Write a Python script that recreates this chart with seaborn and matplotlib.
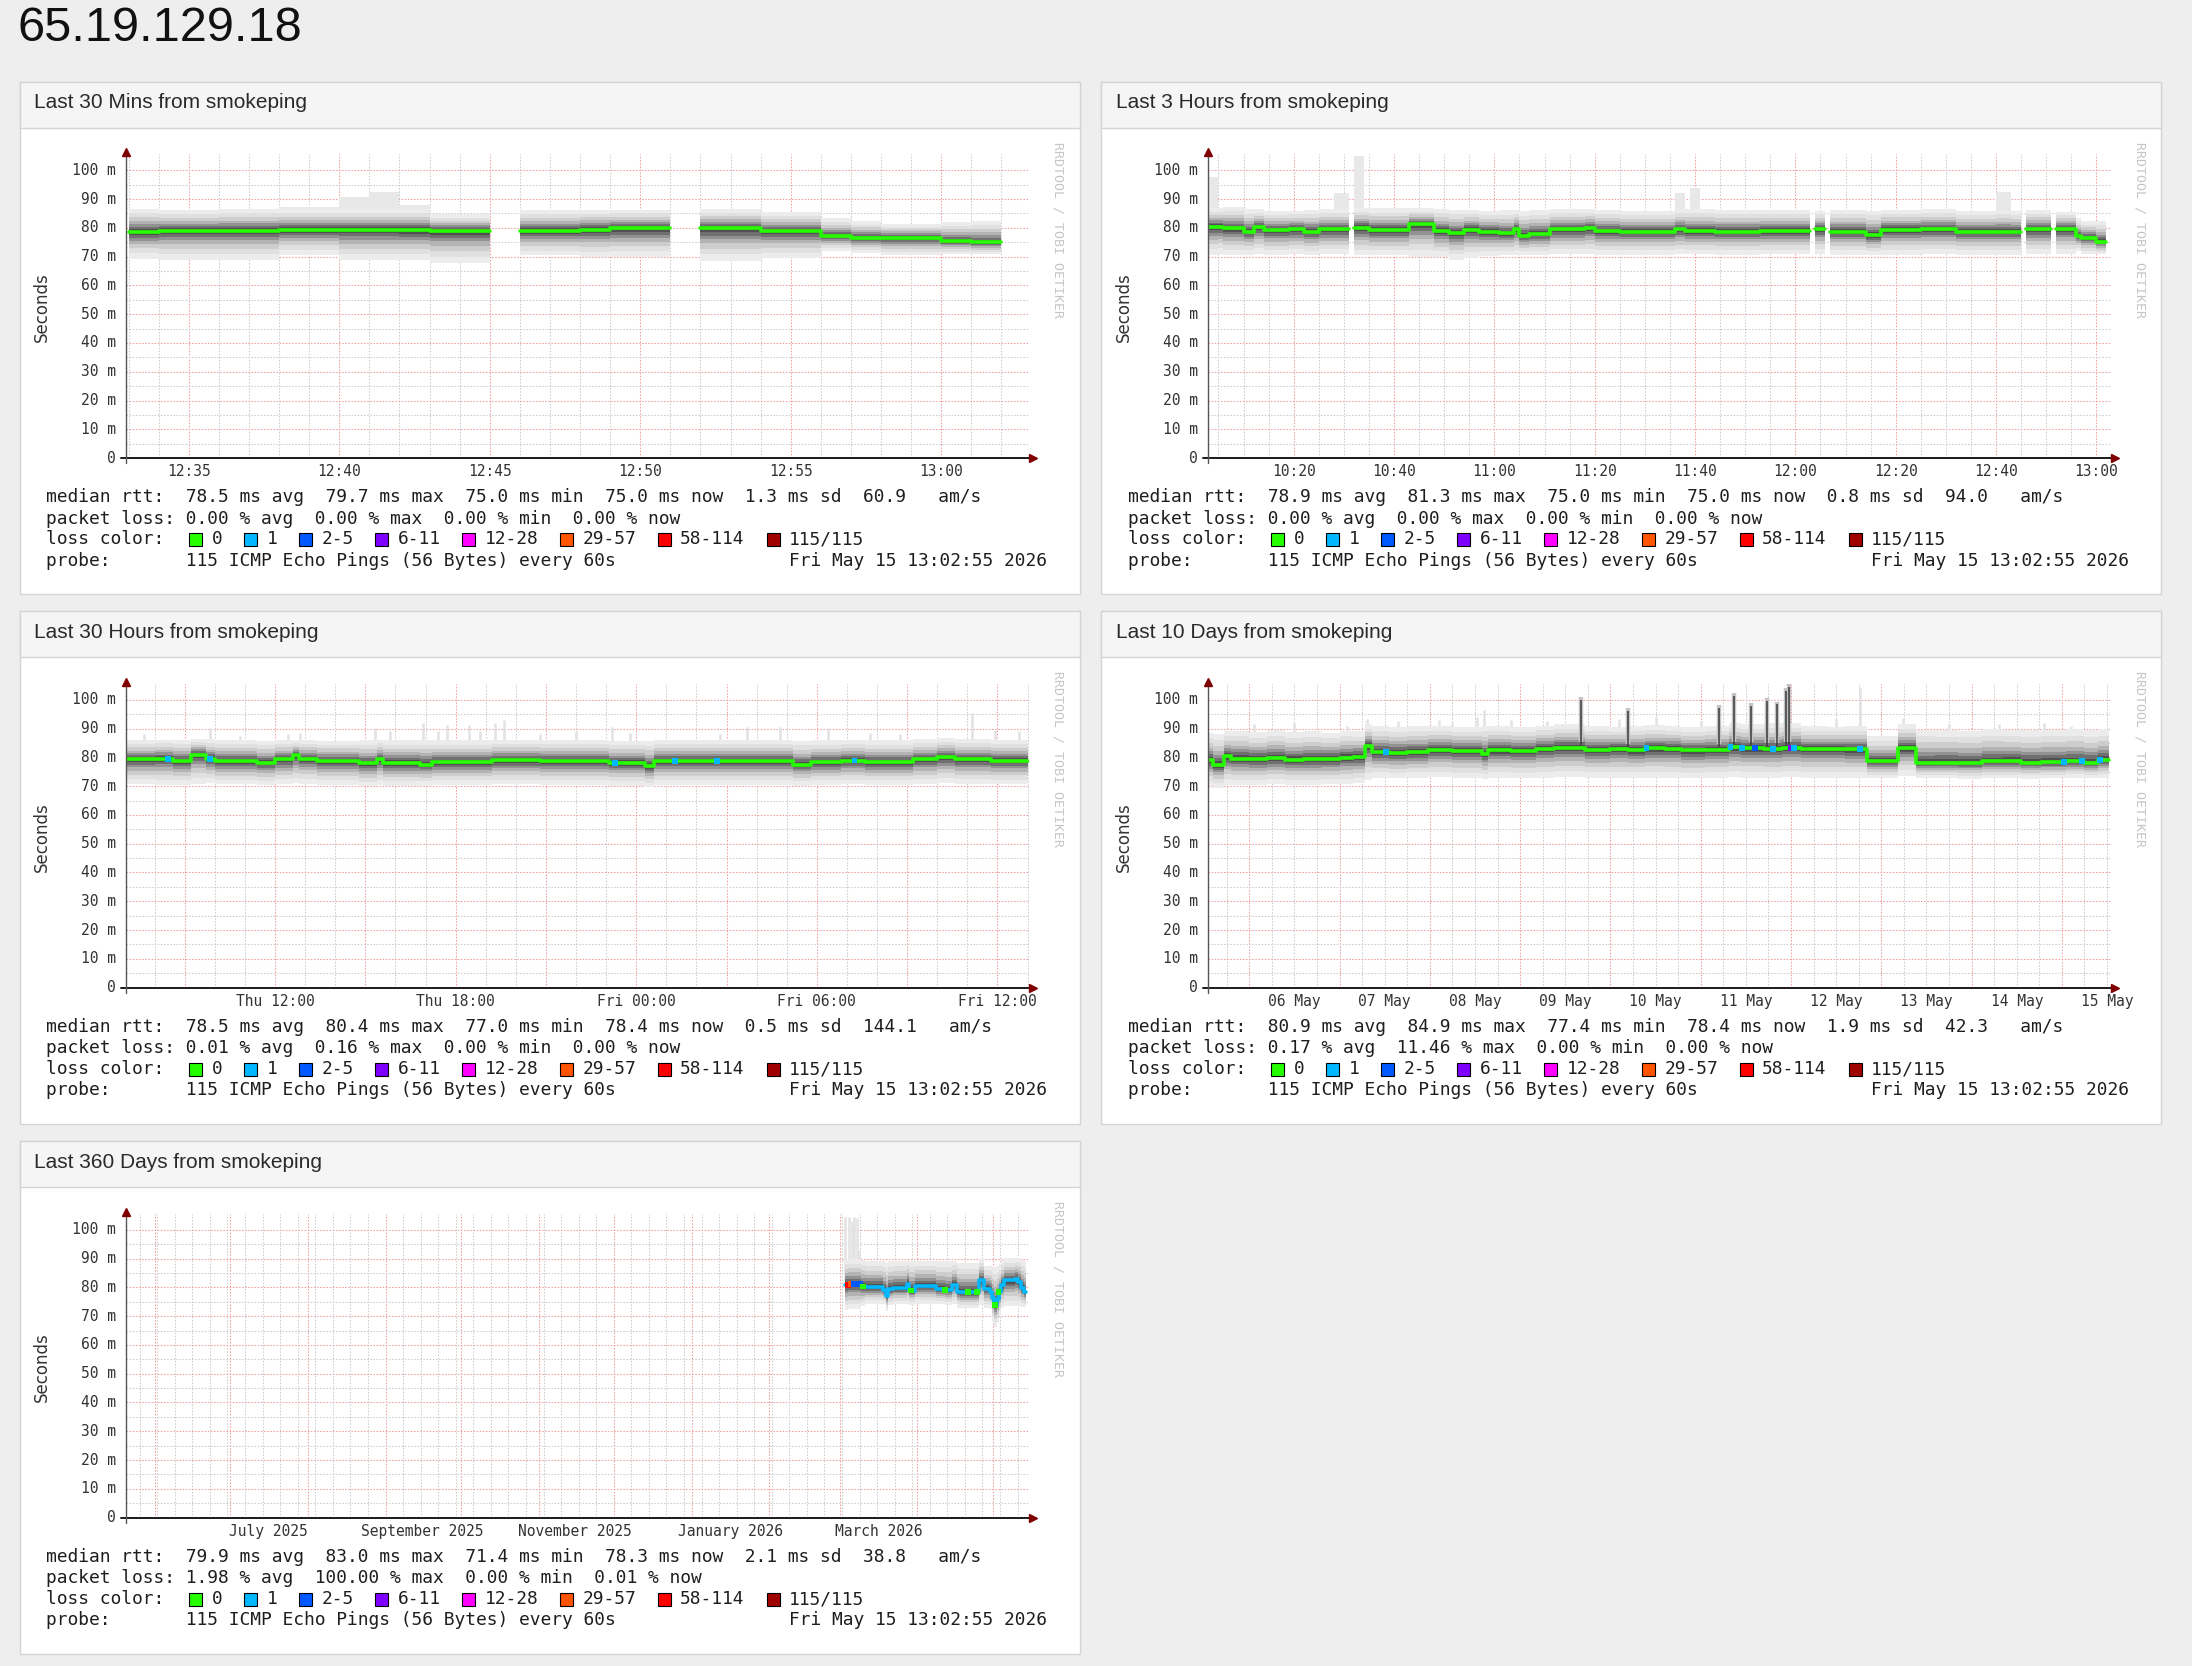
import numpy as np
import pandas as pd
import matplotlib
matplotlib.use("Agg")
import matplotlib.pyplot as plt
import matplotlib.dates as mdates
import matplotlib.transforms as mtransforms
from matplotlib.patches import Rectangle
import seaborn as sns

sns.set_theme(style="white")
plt.rcParams["font.family"] = ["DejaVu Sans"]

W, H = 2192, 1666
MONO = "DejaVu Sans Mono"
SANS = "Liberation Sans"

HOST = "65.19.129.18"
END = pd.Timestamp("2026-05-15 13:02:55")
STAMP = "Fri May 15 13:02:55 2026"
PROBE = "115 ICMP Echo Pings (56 Bytes) every 60s"

loss_names = ["0", "1", "2-5", "6-11", "12-28", "29-57", "58-114", "115/115"]
loss_colors = ["#26ff00", "#00b8ff", "#0059ff", "#7e00ff", "#ff00ff", "#ff5500", "#ff0000", "#a10000"]

y_ticks = [0, 10, 20, 30, 40, 50, 60, 70, 80, 90, 100]
y_labels = ["0", "10 m", "20 m", "30 m", "40 m", "50 m", "60 m", "70 m", "80 m", "90 m", "100 m"]

nan = np.nan

# ---- last 30 mins (minutes after 12:00) ----
t1 = list(range(33, 62))
med1 = [78.6, 78.9, 78.9, 79.0, 79.0, 79.4, 79.4, 79.4, 79.4, 79.3, 79.0, 79.0, nan, 79.0, 79.0,
        79.4, 79.8, 79.8, nan, 79.8, 79.8, 79.0, 79.0, 77.3, 76.6, 76.6, 76.6, 75.4, 75.0]
hi1 = [86.7, 86.3, 86.3, 86.7, 86.7, 86.5, 86.5, 86.5, 86.5, 86.5, 84.7, 84.7, nan, 86.3, 86.3,
       86.3, 86.3, 86.3, nan, 86.7, 86.7, 85.4, 85.4, 83.4, 82.3, 81.4, 81.4, 82.1, 82.5]
lo1 = [69.3, 69.0, 69.0, 69.0, 69.0, 70.5, 70.5, 68.8, 68.8, 68.8, 67.7, 67.7, nan, 70.4, 70.4,
       69.8, 69.8, 69.8, nan, 68.5, 68.5, 69.4, 69.4, 72.1, 71.4, 70.4, 70.4, 70.8, 70.8]
ext1 = [nan, nan, nan, nan, nan, 87.4, 87.4, 90.7, 92.4, 87.8, nan, nan, nan, nan, nan,
        nan, nan, nan, nan, nan, nan, nan, nan, nan, nan, nan, nan, nan, nan]

# ---- last 3 hours (minutes after 10:00) ----
t2 = [3, 5, 6, 10, 12, 14, 19, 22, 25, 28, 31, 32, 34, 35, 43, 48, 51, 54, 57, 61, 64, 65, 67, 71, 78,
      80, 85, 96, 98, 99, 101, 104, 113, 123, 124, 126, 127, 134, 137, 145, 152, 160, 163, 165, 166,
      171, 172, 176, 177, 180]
med2 = [80.4, 80.4, 79.8, 78.7, 80.2, 79.3, 79.5, 78.7, 79.5, 79.5, nan, 80.0, 80.0, 79.3, 81.2,
        79.0, 78.1, 79.3, 78.7, 78.1, 79.5, 77.2, 77.9, 79.5, 80.0, 78.9, 78.7, 79.6, 79.0, 79.0, 79.0,
        78.7, 78.9, nan, 79.5, nan, 78.7, 77.5, 79.3, 79.6, 78.7, 78.7, 78.7, nan, 79.5,
        nan, 79.6, 77.3, 76.6, 75.2]
hi2 = [87.0, 87.0, 87.4, 86.5, 86.5, 85.8, 86.0, 86.2, 86.5, 86.5, nan, 87.0, 87.0, 86.8, 86.8,
       86.5, 86.3, 86.3, 86.0, 86.2, 86.2, 86.0, 86.2, 86.5, 86.5, 86.2, 86.0, 86.5, 86.5, 86.5, 86.5,
       86.3, 86.3, nan, 86.0, nan, 86.3, 86.0, 86.3, 86.5, 86.0, 86.3, 86.0, nan, 86.2,
       nan, 85.5, 83.4, 82.3, 82.3]
lo2 = [70.6, 71.0, 70.6, 70.6, 71.0, 70.4, 70.8, 70.4, 70.8, 70.8, nan, 70.6, 70.6, 70.4, 70.0,
       70.0, 69.0, 69.5, 70.2, 70.6, 70.6, 70.6, 70.6, 70.8, 71.0, 70.6, 70.6, 70.8, 70.8, 70.8, 70.8,
       70.6, 70.8, nan, 71.0, nan, 70.6, 70.4, 70.6, 70.8, 70.6, 70.6, 70.6, nan, 70.8,
       nan, 70.8, 72.1, 71.0, 70.8]
ext2 = [97.8, nan, nan, nan, nan, nan, nan, nan, nan, 92.0, nan, 104.8, nan, nan, nan,
        nan, nan, nan, nan, nan, nan, nan, nan, nan, nan, nan, nan, 92.0, nan, 93.7, nan,
        nan, nan, nan, nan, nan, nan, nan, nan, nan, nan, 92.6, nan, nan, nan,
        nan, nan, nan, nan, nan]

# ---- last 30 hours (hours after Thu 00:00) ----
t3 = [7.05, 8.0, 8.6, 9.2, 9.7, 10.0, 11.4, 12.0, 12.6, 12.8, 13.4, 14.8, 15.4, 15.6, 16.8, 17.2,
      19.2, 20.8, 23.1, 24.3, 24.6, 25.5, 26.8, 29.2, 29.8, 30.8, 31.6, 33.2, 34.0, 34.6, 35.8]
med3 = [79.3, 79.5, 78.7, 80.9, 79.5, 78.7, 78.1, 79.3, 80.7, 79.5, 78.7, 77.9, 79.3, 78.1, 77.5, 78.3,
        79.0, 78.7, 78.1, 76.9, 78.7, 78.7, 78.7, 77.5, 78.3, 78.9, 78.3, 79.3, 80.1, 79.3, 78.9]
hi3 = [86.0, 86.2, 86.0, 86.5, 86.3, 86.0, 85.8, 86.0, 86.2, 86.0, 85.8, 86.0, 86.2, 86.0, 86.2, 86.0,
       86.2, 86.0, 85.8, 85.8, 86.0, 86.0, 86.0, 85.8, 86.0, 86.2, 86.0, 86.5, 86.8, 86.3, 86.0]
lo3 = [70.8, 70.5, 70.5, 70.8, 71.0, 70.6, 70.4, 70.6, 71.0, 70.8, 70.3, 70.0, 70.5, 70.0, 70.2, 70.5,
       70.6, 70.5, 70.2, 69.8, 70.3, 70.5, 70.5, 70.2, 70.5, 70.6, 70.5, 70.8, 71.0, 70.8, 70.6]
spk3_t = [7.65, 9.84, 10.83, 12.43, 12.83, 15.32, 15.81, 16.91, 17.41, 17.71, 18.44, 18.8, 19.3, 19.6,
          20.8, 21.99, 23.18, 23.78, 26.77, 27.67, 28.76, 30.36, 31.75, 32.75, 35.14, 35.93, 36.73]
spk3_top = [88.0, 90.2, 87.5, 88.0, 88.5, 90.2, 89.0, 91.9, 89.0, 91.3, 91.3, 89.0, 91.9, 93.0,
            88.0, 89.0, 90.7, 88.5, 88.0, 90.7, 90.7, 90.2, 88.5, 88.0, 95.4, 89.6, 89.0]
mark3_t = [8.44, 9.84, 23.3, 25.28, 26.67, 31.25]
mark3_c = ["1", "1", "1", "1", "1", "1"]

# ---- last 10 days (days after May 5 00:00) ----
t4 = [0.55, 0.60, 0.72, 0.80, 1.00, 1.20, 1.40, 1.60, 1.80, 2.00, 2.15, 2.28, 2.36, 2.55, 2.75, 2.98,
      3.25, 3.58, 3.65, 3.90, 4.18, 4.38, 4.72, 5.00, 5.20, 5.38, 5.60, 5.78, 6.05, 6.31, 6.45, 6.70,
      6.90, 7.11, 7.40, 7.60, 7.84, 8.18, 8.38, 8.60, 8.85, 9.11, 9.35, 9.55, 9.77, 10.05, 10.25, 10.40]
med4 = [79.1, 77.4, 80.3, 79.6, 79.3, 79.7, 79.2, 79.5, 79.4, 79.9, 80.2, 84.0, 81.8, 81.5, 81.8, 82.6,
        82.3, 81.1, 82.4, 82.2, 82.9, 83.4, 82.6, 82.9, 82.5, 83.2, 83.0, 82.4, 82.6, 83.5, 83.2, 83.0,
        83.4, 82.9, 83.0, 82.8, 78.6, 83.2, 78.0, 78.2, 77.9, 78.6, 78.8, 78.2, 78.3, 78.6, 78.2, 79.1]
hi4 = [88.5, 88.0, 89.0, 89.3, 88.7, 89.5, 88.8, 89.0, 88.5, 89.2, 89.0, 91.5, 91.0, 90.5, 90.8, 91.0,
       90.5, 91.0, 91.0, 90.6, 91.0, 91.5, 91.0, 90.5, 91.0, 91.2, 90.8, 90.5, 91.0, 92.0, 91.5, 91.8,
       92.0, 90.8, 90.5, 90.8, 87.3, 91.5, 89.6, 89.5, 89.3, 89.8, 89.6, 89.4, 89.5, 89.8, 89.4, 89.7]
lo4 = [70.0, 69.5, 70.5, 70.3, 70.5, 70.8, 70.5, 70.3, 70.6, 70.8, 71.0, 72.0, 73.0, 72.8, 73.0, 73.2,
       72.8, 72.5, 73.0, 72.8, 73.0, 73.2, 73.0, 73.0, 72.8, 73.0, 73.0, 72.8, 73.0, 73.2, 73.0, 73.0,
       73.2, 73.0, 73.0, 72.8, 72.8, 73.5, 72.8, 72.8, 72.6, 72.8, 72.8, 72.6, 72.8, 73.0, 72.8, 73.0]
spk4_t = [1.05, 1.5, 2.08, 2.30, 2.65, 3.10, 3.25, 3.52, 3.60, 3.9, 4.3, 5.1, 5.5, 6.0, 7.5, 7.76,
          8.24, 8.75, 9.3, 9.8, 10.1]
spk4_top = [91.5, 92.0, 91.0, 93.5, 92.5, 93.0, 92.0, 94.0, 96.5, 93.0, 92.5, 93.5, 94.0, 92.5, 93.5,
            104.0, 93.6, 91.5, 91.5, 92.0, 91.0]
drk4_t = [4.67, 5.20, 6.20, 6.37, 6.56, 6.73, 6.84, 6.95, 6.98]
drk4_top = [100.9, 97.1, 98.3, 102.3, 98.8, 100.6, 99.4, 104.1, 105.4]
mark4_t = [2.51, 5.40, 6.33, 6.46, 6.60, 6.80, 7.00, 7.03, 7.76, 10.02, 10.22, 10.42]
mark4_c = ["1", "1", "1", "1", "2-5", "1", "6-11", "1", "1", "1", "1", "1"]

# ---- last 360 days (days after 2026-03-01) ----
t5 = [2.2, 3.5, 5.5, 8.5, 10.2, 17.5, 18.5, 19.5, 21.5, 27.0, 27.8, 30.0, 38.5, 42.0, 45.0, 47.0,
      48.0, 55.5, 57.5, 60.0, 60.7, 61.7, 62.7, 63.4, 64.5, 65.4, 70.0, 71.3, 72.5, 73.7]
med5 = [80.8, 81.1, 81.1, 80.3, 80.1, 79.1, 77.0, 79.4, 79.7, 81.1, 78.9, 80.4, 79.4, 79.1, 80.8, 78.5,
        78.3, 82.4, 79.4, 78.5, 76.2, 74.0, 76.0, 78.5, 80.8, 82.4, 82.9, 81.7, 79.7, 78.5]
hi5 = [90.0, 90.0, 90.0, 89.5, 89.3, 89.0, 88.5, 89.0, 89.3, 89.5, 89.3, 89.3, 89.0, 89.0, 89.3, 88.6,
       88.6, 90.0, 87.5, 87.5, 87.2, 87.2, 87.5, 88.0, 89.5, 90.1, 90.1, 90.1, 89.5, 89.0]
lo5 = [72.0, 72.5, 72.5, 73.5, 74.3, 74.3, 71.8, 74.0, 74.3, 74.3, 74.0, 74.3, 74.3, 74.0, 74.3, 73.0,
       72.7, 74.0, 73.0, 72.5, 68.0, 66.4, 67.5, 70.0, 73.0, 73.5, 73.5, 73.5, 73.3, 73.3]
spk5_t = [2.3, 3.6, 5.0, 5.9, 7.0, 7.8]
spk5_top = [104.6, 104.6, 103.0, 104.6, 104.0, 93.0]
mark5_t = [3.4, 4.4, 5.6, 6.4, 7.2, 8.0, 9.5, 28.4, 42.1, 51.4, 54.7, 62.0, 63.4]
mark5_c = ["58-114", "29-57", "2-5", "2-5", "2-5", "2-5", "0", "0", "0", "0", "0", "0", "0"]

stats1 = ["median rtt:  78.5 ms avg  79.7 ms max  75.0 ms min  75.0 ms now  1.3 ms sd  60.9   am/s",
          "packet loss: 0.00 % avg  0.00 % max  0.00 % min  0.00 % now"]
stats2 = ["median rtt:  78.9 ms avg  81.3 ms max  75.0 ms min  75.0 ms now  0.8 ms sd  94.0   am/s",
          "packet loss: 0.00 % avg  0.00 % max  0.00 % min  0.00 % now"]
stats3 = ["median rtt:  78.5 ms avg  80.4 ms max  77.0 ms min  78.4 ms now  0.5 ms sd  144.1   am/s",
          "packet loss: 0.01 % avg  0.16 % max  0.00 % min  0.00 % now"]
stats4 = ["median rtt:  80.9 ms avg  84.9 ms max  77.4 ms min  78.4 ms now  1.9 ms sd  42.3   am/s",
          "packet loss: 0.17 % avg  11.46 % max  0.00 % min  0.00 % now"]
stats5 = ["median rtt:  79.9 ms avg  83.0 ms max  71.4 ms min  78.3 ms now  2.1 ms sd  38.8   am/s",
          "packet loss: 1.98 % avg  100.00 % max  0.00 % min  0.01 % now"]

lab1 = ["2026-05-15 12:35", "2026-05-15 12:40", "2026-05-15 12:45", "2026-05-15 12:50",
        "2026-05-15 12:55", "2026-05-15 13:00"]
lab1_txt = ["12:35", "12:40", "12:45", "12:50", "12:55", "13:00"]
lab2 = ["2026-05-15 10:20", "2026-05-15 10:40", "2026-05-15 11:00", "2026-05-15 11:20",
        "2026-05-15 11:40", "2026-05-15 12:00", "2026-05-15 12:20", "2026-05-15 12:40",
        "2026-05-15 13:00"]
lab2_txt = ["10:20", "10:40", "11:00", "11:20", "11:40", "12:00", "12:20", "12:40", "13:00"]
lab3 = ["2026-05-14 12:00", "2026-05-14 18:00", "2026-05-15 00:00", "2026-05-15 06:00",
        "2026-05-15 12:00"]
lab3_txt = ["Thu 12:00", "Thu 18:00", "Fri 00:00", "Fri 06:00", "Fri 12:00"]
lab4 = ["2026-05-%02d 12:00" % d for d in range(6, 16)]
lab4_txt = ["%02d May" % d for d in range(6, 16)]
lab5 = ["2025-07-16 12:00", "2025-09-15 12:00", "2025-11-15 12:00", "2026-01-16 12:00",
        "2026-03-16 12:00"]
lab5_txt = ["July 2025", "September 2025", "November 2025", "January 2026", "March 2026"]

SMOKE = [(1.00, "#ececec"), (0.80, "#e0e0e0"), (0.62, "#cdcdcd"), (0.46, "#b3b3b3"),
         (0.33, "#929292"), (0.22, "#707070"), (0.12, "#505050")]

PANEL_W, PANEL_H, HEAD_H = 1060, 512.5, 46
AX_DX, AX_DY, AX_W, AX_H = 106.5, 72.8, 903, 303.8
YTOP = 105.56
CW = 10.75

fig = plt.figure(figsize=(W / 100, H / 100), dpi=100)
fig.patch.set_facecolor("#eeeeee")


def px(x, y):
    return x / W, 1 - y / H


def add_rect(x, y, w, h, z=1, **kw):
    fig.add_artist(Rectangle((x / W, 1 - (y + h) / H), w / W, h / H,
                             transform=fig.transFigure, zorder=z, **kw))


def steps(t, cols, t_end):
    edges = list(t) + [t_end]
    runs, xs, ys = [], [], None
    for i in range(len(t)):
        vals = [c[i] for c in cols]
        if np.isnan(vals[0]):
            if xs:
                runs.append((np.array(xs), [np.array(y) for y in ys]))
            xs, ys = [], None
            continue
        if ys is None:
            ys = [[] for _ in cols]
        xs += [edges[i], edges[i + 1]]
        for k, v in enumerate(vals):
            ys[k] += [v, v]
    if xs:
        runs.append((np.array(xs), [np.array(y) for y in ys]))
    return runs


def at(t, v, q):
    idx = np.clip(np.searchsorted(t, q, side="right") - 1, 0, len(t) - 1)
    return np.asarray(v, float)[idx]


def draw_panel(L, T, title, span, base, unit, t, med, hi, lo, t_end, line_color,
               major, minor, labs, labs_txt, stats,
               ext=None, marks=None, light=None, dark=None):
    add_rect(L, T, PANEL_W, PANEL_H, z=-3, facecolor="white", edgecolor="#d4d4d4", lw=1)
    add_rect(L, T, PANEL_W, HEAD_H, z=-2, facecolor="#f5f5f5", edgecolor="#d4d4d4", lw=1)
    fig.text(*px(L + 15, T + 21), title, family=SANS, size=15, color="#2a2a2a", va="center")

    ax = fig.add_axes([(L + AX_DX) / W, 1 - (T + AX_DY + AX_H) / H, AX_W / W, AX_H / H])
    ax.set_facecolor("white")
    b = mdates.date2num(pd.Timestamp(base))
    conv = lambda v: b + np.asarray(v, float) / unit
    x = conv(t)
    xe = conv([t_end])[0]

    # light streaks above the smoke
    if light is not None:
        lt, ltop = conv(light[0]), np.asarray(light[1])
        ax.vlines(lt, at(x, med, lt), ltop, colors="#e2e2e2", lw=1.8, zorder=1.5)
    if ext is not None:
        for xs, (e, h) in steps(x, [ext, hi], xe):
            ax.fill_between(xs, h - 0.5, e, color="#e8e8e8", lw=0, zorder=1.6)

    # smoke: nested layers, darker toward the median
    for xs, (m, h, l) in steps(x, [med, hi, lo], xe):
        for f, c in SMOKE:
            ax.fill_between(xs, m - (m - l) * f, m + (h - m) * f, color=c, lw=0, zorder=2)

    if dark is not None:
        dt, dtop = conv(dark[0]), np.asarray(dark[1])
        dbase = at(x, med, dt)
        ax.vlines(dt, dbase + 2, dtop, colors="#c4c4c4", lw=3.2, zorder=2.5)
        ax.vlines(dt, dbase + 1, dtop - 1, colors="#3a3a3a", lw=1.1, zorder=3)

    for xs, (m,) in steps(x, [med], xe):
        sns.lineplot(x=xs, y=m, ax=ax, color=line_color, lw=2.6, estimator=None,
                     sort=False, zorder=5)

    if marks is not None:
        mt = conv(marks[0])
        sns.scatterplot(x=mt, y=at(x, med, mt), hue=marks[1], ax=ax, marker="s", s=18,
                        palette=dict(zip(loss_names, loss_colors)), linewidth=0,
                        legend=False, zorder=6)

    x0 = mdates.date2num(END - span)
    x1 = mdates.date2num(END)
    ax.set_xlim(x0, x1)
    ax.set_ylim(0, YTOP)
    ax.xaxis.set_major_locator(major)
    ax.xaxis.set_minor_locator(minor)
    ax.set_yticks(y_ticks)
    ax.set_yticks(list(range(5, 100, 10)), minor=True)
    ax.grid(which="major", color="#f2a0a0", lw=0.75, ls=(0, (1.5, 1.5)))
    ax.grid(which="minor", color="#cdcdcd", lw=0.75, ls=(0, (1.5, 1.5)))
    ax.set_axisbelow(True)
    ax.tick_params(which="major", direction="inout", length=5, width=0.8, color="#555555",
                   labelbottom=False, labelleft=False)
    ax.tick_params(which="minor", direction="inout", length=3, width=0.8, color="#777777")
    ax.set_xlabel("")
    ax.set_ylabel("")
    for s in ax.spines.values():
        s.set_visible(False)

    ax.plot([-5 / AX_W, 1.0043], [0, 0], transform=ax.transAxes, color="#1a1a1a", lw=1.4,
            clip_on=False, zorder=7)
    ax.plot([0, 0], [-5 / AX_H, 1.007], transform=ax.transAxes, color="#555555", lw=1.0,
            clip_on=False, zorder=7)
    ax.plot([1.0043], [0], transform=ax.transAxes, marker=">", ms=6, color="#7f0000",
            clip_on=False, zorder=8)
    ax.plot([0], [1.007], transform=ax.transAxes, marker="^", ms=6, color="#7f0000",
            clip_on=False, zorder=8)

    ytr = mtransforms.blended_transform_factory(ax.transAxes, ax.transData)
    for v, s in zip(y_ticks, y_labels):
        ax.text(-10 / AX_W, v, s, transform=ytr, ha="right", va="center",
                family=MONO, size=10.5, color="#333333")
    xtr = mtransforms.blended_transform_factory(ax.transData, ax.transAxes)
    for tt, s in zip(labs, labs_txt):
        ax.text(mdates.date2num(pd.Timestamp(tt)), -13.8 / AX_H, s, transform=xtr,
                ha="center", va="center", family=MONO, size=10.5, color="#333333")

    fig.text(*px(L + 22.5, T + 226), "Seconds", rotation=90, ha="center", va="center",
             family="DejaVu Sans", size=12, color="#333333")
    fig.text(*px(L + 1038.5, T + 60.2), "RRDTOOL / TOBI OETIKER", rotation=270,
             ha="center", va="top", family=MONO, size=9.5, color="#c6c6c6")

    tx = L + 27
    ys = [T + 416, T + 437, T + 458, T + 479]
    fig.text(*px(tx, ys[0]), stats[0], family=MONO, size=12.85, color="#1e1e1e", va="center")
    fig.text(*px(tx, ys[1]), stats[1], family=MONO, size=12.85, color="#1e1e1e", va="center")
    fig.text(*px(tx, ys[2]), "loss color:", family=MONO, size=12.85, color="#1e1e1e",
             va="center")
    col = 13.2
    for name, c in zip(loss_names, loss_colors):
        add_rect(tx + 1 + col * CW, ys[2] - 6.5, 13, 13, facecolor=c, edgecolor="black", lw=0.8)
        fig.text(*px(tx + (col + 2.15) * CW, ys[2]), name, family=MONO, size=12.85,
                 color="#1e1e1e", va="center")
        col += 2.15 + len(name) + 1.95
    fig.text(*px(tx, ys[3]), "probe:       " + PROBE, family=MONO, size=12.85,
             color="#1e1e1e", va="center")
    fig.text(*px(L + 1027.5, ys[3]), STAMP, family=MONO, size=12.85, color="#1e1e1e",
             va="center", ha="right")
    return ax


fig.text(*px(18, 28.5), HOST, family=SANS, size=35, color="#111111", va="center")

LEFT, RIGHT = 19.5, 1101.5
ROW = [81.5, 611, 1141]
GREEN = loss_colors[0]
BLUE = loss_colors[1]

draw_panel(LEFT, ROW[0], "Last 30 Mins from smokeping", pd.Timedelta(minutes=30),
           "2026-05-15 12:00", 1440, t1, med1, hi1, lo1, 62, GREEN,
           mdates.MinuteLocator(byminute=range(0, 60, 5)), mdates.MinuteLocator(),
           lab1, lab1_txt, stats1, ext=ext1)

draw_panel(RIGHT, ROW[0], "Last 3 Hours from smokeping", pd.Timedelta(hours=3),
           "2026-05-15 10:00", 1440, t2, med2, hi2, lo2, 182, GREEN,
           mdates.MinuteLocator(byminute=[0, 20, 40]),
           mdates.MinuteLocator(byminute=range(0, 60, 5)),
           lab2, lab2_txt, stats2, ext=ext2)

draw_panel(LEFT, ROW[1], "Last 30 Hours from smokeping", pd.Timedelta(hours=30),
           "2026-05-14 00:00", 24, t3, med3, hi3, lo3, 37.0, GREEN,
           mdates.HourLocator(byhour=range(0, 24, 3)), mdates.HourLocator(),
           lab3, lab3_txt, stats3, marks=(mark3_t, mark3_c), light=(spk3_t, spk3_top))

draw_panel(RIGHT, ROW[1], "Last 10 Days from smokeping", pd.Timedelta(days=10),
           "2026-05-05 00:00", 1, t4, med4, hi4, lo4, 10.52, GREEN,
           mdates.DayLocator(), mdates.HourLocator(byhour=[0, 6, 12, 18]),
           lab4, lab4_txt, stats4, marks=(mark4_t, mark4_c), light=(spk4_t, spk4_top),
           dark=(drk4_t, drk4_top))

draw_panel(LEFT, ROW[2], "Last 360 Days from smokeping", pd.Timedelta(days=360),
           "2026-03-01 00:00", 1, t5, med5, hi5, lo5, 74.5, BLUE,
           mdates.MonthLocator(), mdates.WeekdayLocator(byweekday=mdates.MO),
           lab5, lab5_txt, stats5, marks=(mark5_t, mark5_c), light=(spk5_t, spk5_top))

fig.savefig("out.png", dpi=100, facecolor=fig.get_facecolor())
